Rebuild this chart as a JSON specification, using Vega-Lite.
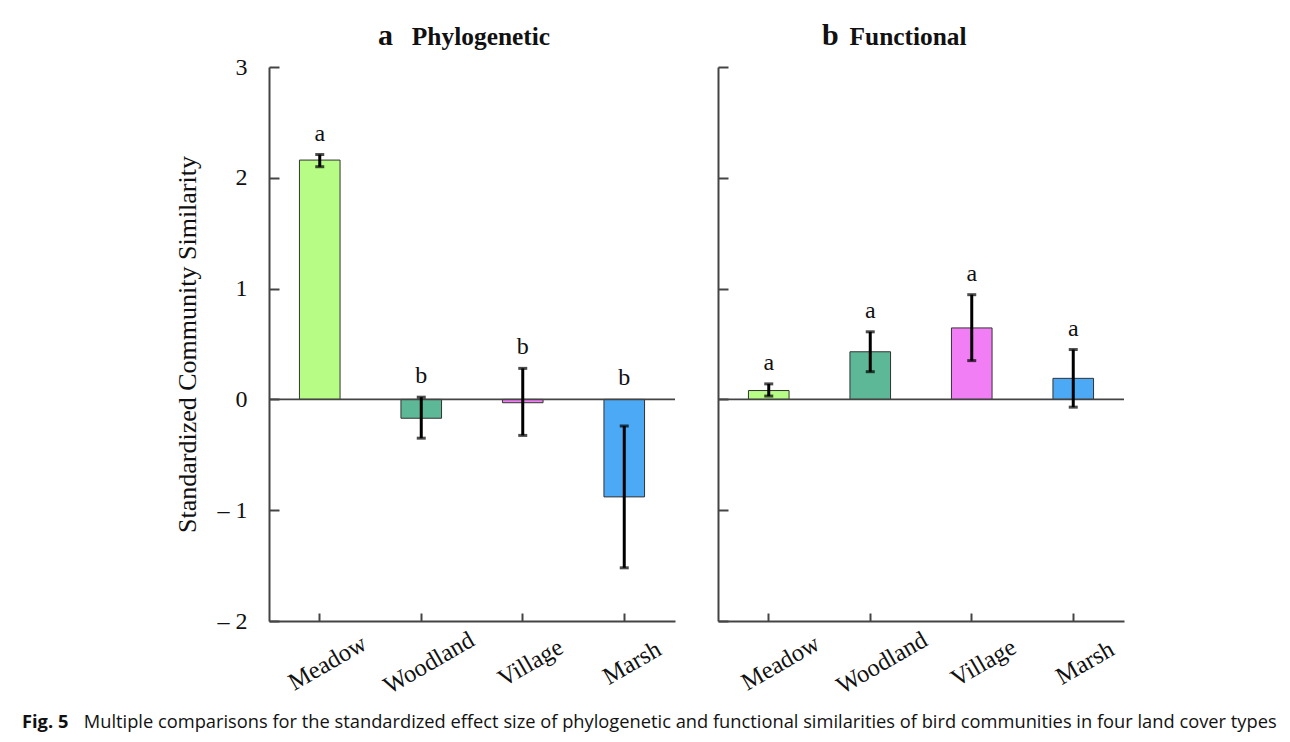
{
  "$schema": "https://vega.github.io/schema/vega-lite/v6.json",
  "background": "white",
  "padding": {"left": 22, "top": 21, "right": 10, "bottom": 5},
  "data": {
    "values": [
      {"panel": "a", "cover": "Meadow", "mean": 2.16, "lo": 2.1, "hi": 2.21, "letter": "a"},
      {"panel": "a", "cover": "Woodland", "mean": -0.17, "lo": -0.35, "hi": 0.02, "letter": "b"},
      {"panel": "a", "cover": "Village", "mean": -0.03, "lo": -0.325, "hi": 0.28, "letter": "b"},
      {"panel": "a", "cover": "Marsh", "mean": -0.88, "lo": -1.52, "hi": -0.24, "letter": "b"},
      {"panel": "b", "cover": "Meadow", "mean": 0.08, "lo": 0.03, "hi": 0.14, "letter": "a"},
      {"panel": "b", "cover": "Woodland", "mean": 0.43, "lo": 0.25, "hi": 0.61, "letter": "a"},
      {"panel": "b", "cover": "Village", "mean": 0.645, "lo": 0.35, "hi": 0.945, "letter": "a"},
      {"panel": "b", "cover": "Marsh", "mean": 0.19, "lo": -0.07, "hi": 0.45, "letter": "a"}
    ]
  },
  "config": {
    "view": {"stroke": null},
    "font": "Liberation Serif",
    "axis": {
      "grid": false,
      "domainColor": "#444444",
      "domainWidth": 2,
      "tickColor": "#444444",
      "tickWidth": 2,
      "labelFont": "Liberation Serif",
      "labelColor": "#111111",
      "titleFont": "Liberation Serif",
      "titleColor": "#111111",
      "titleFontWeight": "normal"
    }
  },
  "title": {
    "text": "Fig. 5",
    "subtitle": "\u200b\u00a0\u00a0\u00a0\u00a0\u00a0\u00a0\u00a0\u00a0\u00a0\u00a0\u00a0\u00a0\u00a0Multiple comparisons for the standardized effect size of phylogenetic and functional similarities of bird communities in four land cover types",
    "orient": "bottom",
    "anchor": "start",
    "dx": -152,
    "offset": 16,
    "font": "Open Sans",
    "fontSize": 18.3,
    "fontWeight": "bold",
    "color": "#111111",
    "subtitleFont": "Open Sans",
    "subtitleFontSize": 18.3,
    "subtitleColor": "#111111",
    "subtitlePadding": -18.3
  },
  "spacing": 41,
  "hconcat": [
    {
      "width": 406,
      "height": 554,
      "transform": [
        {"filter": "datum.panel == 'a'"},
        {"calculate": "max(0, datum.hi)", "as": "top"}
      ],
      "title": {
        "text": "a",
        "subtitle": "\u200b\u00a0\u00a0\u00a0\u00a0\u00a0\u200aPhylogenetic",
        "anchor": "start",
        "frame": "group",
        "dx": 109,
        "offset": 4,
        "font": "Liberation Serif",
        "fontSize": 30,
        "fontWeight": "bold",
        "color": "#111111",
        "subtitleFont": "Liberation Serif",
        "subtitleFontSize": 25.4,
        "subtitleFontWeight": "bold",
        "subtitleColor": "#111111",
        "subtitlePadding": -26
      },
      "layer": [
        {
          "mark": {"type": "bar", "stroke": "#333333", "strokeWidth": 1},
          "encoding": {
            "x": {"field": "cover", "type": "nominal", "sort": ["Meadow", "Woodland", "Village", "Marsh"],
              "scale": {"paddingInner": 0.6, "paddingOuter": 0.3},
              "axis": {"title": null, "labelAngle": -30, "labelAlign": "center", "labelBaseline": "middle", "labelFontSize": 24.5, "tickSize": -8, "labelPadding": 50, "labelOffset": 8}},
            "y": {"field": "mean", "type": "quantitative",
              "scale": {"domain": [-2, 3], "nice": false, "zero": false},
              "axis": {"title": "Standardized Community Similarity", "titleFontSize": 26, "titlePadding": 17, "values": [-2, -1, 0, 1, 2, 3], "labelFontSize": 24, "tickSize": -10, "labelPadding": 32, "labelExpr": "datum.value < 0 ? '\u2013 ' + abs(datum.value) : '' + datum.value"}},
            "color": {"field": "cover", "type": "nominal", "legend": null,
              "scale": {"domain": ["Meadow", "Woodland", "Village", "Marsh"], "range": ["#b6fc85", "#5cb896", "#f27ef5", "#4ba9f5"]}}
          }
        },
        {
          "data": {"values": [{}]},
          "mark": {"type": "rule", "color": "#444444", "strokeWidth": 1.8},
          "encoding": {"y": {"datum": 0}}
        },
        {
          "mark": {"type": "rule", "color": "black", "strokeWidth": 3},
          "encoding": {
            "x": {"field": "cover", "type": "nominal", "sort": ["Meadow", "Woodland", "Village", "Marsh"]},
            "y": {"field": "lo", "type": "quantitative"},
            "y2": {"field": "hi"}
          }
        },
        {
          "mark": {"type": "tick", "color": "black", "size": 9, "thickness": 3},
          "encoding": {
            "x": {"field": "cover", "type": "nominal", "sort": ["Meadow", "Woodland", "Village", "Marsh"]},
            "y": {"field": "lo", "type": "quantitative"}
          }
        },
        {
          "mark": {"type": "tick", "color": "black", "size": 9, "thickness": 3},
          "encoding": {
            "x": {"field": "cover", "type": "nominal", "sort": ["Meadow", "Woodland", "Village", "Marsh"]},
            "y": {"field": "hi", "type": "quantitative"}
          }
        },
        {
          "mark": {"type": "text", "fontSize": 24, "baseline": "middle", "dy": -21, "color": "#111111", "font": "Liberation Serif"},
          "encoding": {
            "x": {"field": "cover", "type": "nominal", "sort": ["Meadow", "Woodland", "Village", "Marsh"]},
            "y": {"field": "top", "type": "quantitative"},
            "text": {"field": "letter"}
          }
        }
      ]
    },
    {
      "width": 406,
      "height": 554,
      "transform": [
        {"filter": "datum.panel == 'b'"},
        {"calculate": "max(0, datum.hi)", "as": "top"}
      ],
      "title": {
        "text": "b",
        "subtitle": "\u200b\u00a0\u00a0\u00a0\u00a0\u200aFunctional",
        "anchor": "start",
        "frame": "group",
        "dx": 104,
        "offset": 15,
        "font": "Liberation Serif",
        "fontSize": 30,
        "fontWeight": "bold",
        "color": "#111111",
        "subtitleFont": "Liberation Serif",
        "subtitleFontSize": 25.4,
        "subtitleFontWeight": "bold",
        "subtitleColor": "#111111",
        "subtitlePadding": -26
      },
      "layer": [
        {
          "mark": {"type": "bar", "stroke": "#333333", "strokeWidth": 1},
          "encoding": {
            "x": {"field": "cover", "type": "nominal", "sort": ["Meadow", "Woodland", "Village", "Marsh"],
              "scale": {"paddingInner": 0.6, "paddingOuter": 0.3},
              "axis": {"title": null, "labelAngle": -30, "labelAlign": "center", "labelBaseline": "middle", "labelFontSize": 24.5, "tickSize": -8, "labelPadding": 50, "labelOffset": 12}},
            "y": {"field": "mean", "type": "quantitative",
              "scale": {"domain": [-2, 3], "nice": false, "zero": false},
              "axis": {"title": null, "values": [-2, -1, 0, 1, 2, 3], "labels": false, "tickSize": -10}},
            "color": {"field": "cover", "type": "nominal", "legend": null,
              "scale": {"domain": ["Meadow", "Woodland", "Village", "Marsh"], "range": ["#b6fc85", "#5cb896", "#f27ef5", "#4ba9f5"]}}
          }
        },
        {
          "data": {"values": [{}]},
          "mark": {"type": "rule", "color": "#444444", "strokeWidth": 1.8},
          "encoding": {"y": {"datum": 0}}
        },
        {
          "mark": {"type": "rule", "color": "black", "strokeWidth": 3},
          "encoding": {
            "x": {"field": "cover", "type": "nominal", "sort": ["Meadow", "Woodland", "Village", "Marsh"]},
            "y": {"field": "lo", "type": "quantitative"},
            "y2": {"field": "hi"}
          }
        },
        {
          "mark": {"type": "tick", "color": "black", "size": 9, "thickness": 3},
          "encoding": {
            "x": {"field": "cover", "type": "nominal", "sort": ["Meadow", "Woodland", "Village", "Marsh"]},
            "y": {"field": "lo", "type": "quantitative"}
          }
        },
        {
          "mark": {"type": "tick", "color": "black", "size": 9, "thickness": 3},
          "encoding": {
            "x": {"field": "cover", "type": "nominal", "sort": ["Meadow", "Woodland", "Village", "Marsh"]},
            "y": {"field": "hi", "type": "quantitative"}
          }
        },
        {
          "mark": {"type": "text", "fontSize": 24, "baseline": "middle", "dy": -21, "color": "#111111", "font": "Liberation Serif"},
          "encoding": {
            "x": {"field": "cover", "type": "nominal", "sort": ["Meadow", "Woodland", "Village", "Marsh"]},
            "y": {"field": "top", "type": "quantitative"},
            "text": {"field": "letter"}
          }
        }
      ]
    }
  ]
}
